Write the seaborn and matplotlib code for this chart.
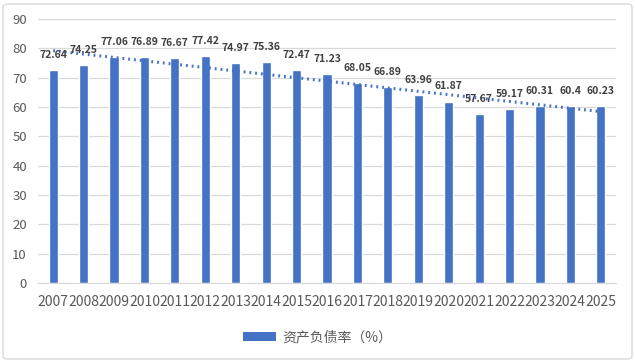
import numpy as np
import pandas as pd
import matplotlib
matplotlib.use('Agg')
import matplotlib.pyplot as plt
import seaborn as sns
from matplotlib.patches import FancyBboxPatch, Patch

# data
years = ['2007', '2008', '2009', '2010', '2011', '2012', '2013', '2014', '2015', '2016',
         '2017', '2018', '2019', '2020', '2021', '2022', '2023', '2024', '2025']
ratio = [72.64, 74.25, 77.06, 76.89, 76.67, 77.42, 74.97, 75.36, 72.47, 71.23,
         68.05, 66.89, 63.96, 61.87, 57.67, 59.17, 60.31, 60.4, 60.23]
labels = ['72.64', '74.25', '77.06', '76.89', '76.67', '77.42', '74.97', '75.36', '72.47', '71.23',
          '68.05', '66.89', '63.96', '61.87', '57.67', '59.17', '60.31', '60.4', '60.23']
series_name = '资产负债率（%）'

df = pd.DataFrame({'year': years, 'ratio': ratio})

sns.set_style('white')
plt.rcParams['font.family'] = ['Noto Sans CJK SC', 'DejaVu Sans']

blue = '#4472C4'
grey_text = '#595959'

fig = plt.figure(figsize=(6.35, 3.62), dpi=100)
ax = fig.add_axes([38 / 635, 1 - 283 / 362, (616 - 38) / 635, (283 - 19) / 362])

sns.barplot(data=df, x='year', y='ratio', color=blue, width=0.3, saturation=1, ax=ax, zorder=2)

# linear trend line (Excel-style)
sns.regplot(x=np.arange(len(years)), y=ratio, scatter=False, ci=None, ax=ax,
            line_kws=dict(color=blue, lw=2.2, ls=(0, (0.6, 1.3)), zorder=3))

for i, (v, t) in enumerate(zip(ratio, labels)):
    ax.annotate(t, (i, v), xytext=(0, 11), textcoords='offset points',
                ha='center', va='center', fontsize=7.5, fontweight='bold', color='#404040', zorder=4)

ax.set_ylim(0, 90)
ax.set_yticks(range(0, 91, 10))
ax.set_xlim(-0.5, len(years) - 0.5)
ax.yaxis.grid(True, color='#D9D9D9', lw=0.9, zorder=0)
ax.set_axisbelow(True)
for s in ['top', 'right', 'left']:
    ax.spines[s].set_visible(False)
ax.spines['bottom'].set_color('#D9D9D9')
ax.tick_params(axis='y', length=0, labelsize=9.5, labelcolor=grey_text, pad=8)
ax.tick_params(axis='x', length=0, labelsize=10, labelcolor=grey_text, pad=9)
ax.set_xlabel('')
ax.set_ylabel('')

handle = Patch(facecolor=blue, edgecolor='none')
fig.legend([handle], [series_name], loc='center', bbox_to_anchor=(0.5, 1 - 337 / 362),
           frameon=False, fontsize=10, labelcolor=grey_text, handlelength=2.4, handleheight=0.6,
           handletextpad=0.4)

border = FancyBboxPatch((3 / 635, 3 / 362), 629 / 635, 355 / 362, boxstyle='round,pad=0,rounding_size=0.008',
                        transform=fig.transFigure, fill=False, edgecolor='#D9D9D9', lw=1)
fig.patches.append(border)

fig.savefig('out.png', dpi=100)
